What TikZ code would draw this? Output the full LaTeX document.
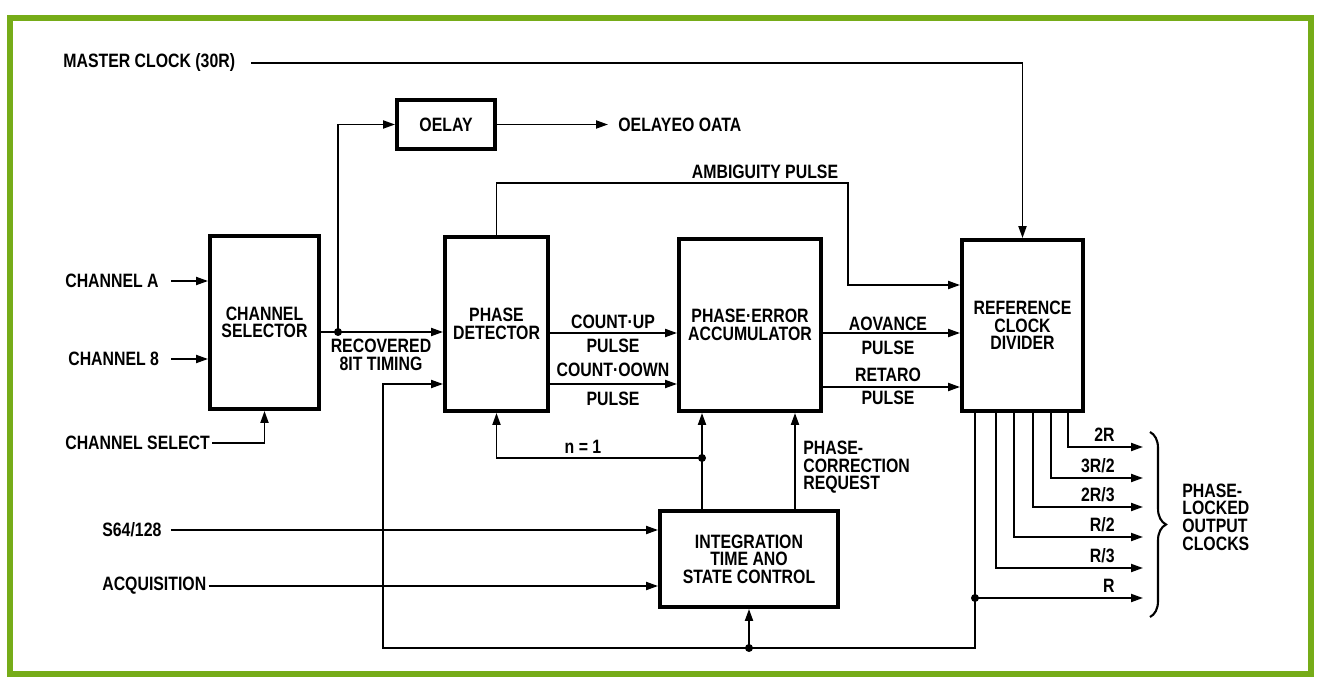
\documentclass[tikz,border=0pt]{standalone}
\usepackage{fontspec}
\setmainfont{Liberation Sans}[FakeStretch=0.82]
\usepackage{tikz}
\usetikzlibrary{arrows.meta, positioning, calc, decorations.pathreplacing}
\definecolor{framegreen}{RGB}{118,172,24}

\begin{document}
\begin{tikzpicture}[x=0.2mm, y=-0.2mm,
    blk/.style={draw, line width=2.2pt, align=center, inner sep=0pt, font=\bfseries\fontsize{11}{10}\selectfont},
    lbl/.style={inner sep=0.4mm, align=center, font=\bfseries\fontsize{11}{10}\selectfont},
    sig/.style={line width=1.1pt, -{Triangle[length=2.4mm, width=1.6mm]}},
    jdot/.style={circle, fill, inner sep=0pt, minimum size=1.6mm}]
        \useasboundingbox (0,0) rectangle (1318,684);
        % Cornice
        \draw[framegreen, line width=1.2mm] (10,18) rectangle (1311,674);

        % Blocchi
        \node[blk, minimum width=21.8mm, minimum height=34.6mm] (sel) at (264.5,322.5) {CHANNEL\\SELECTOR};
        \node[blk, minimum width=20.6mm, minimum height=34.8mm] (det) at (496.5,324) {PHASE\\DETECTOR};
        \node[blk, minimum width=28.4mm, minimum height=34.4mm] (acc) at (750,325) {PHASE·ERROR\\ACCUMULATOR};
        \node[blk, minimum width=24.2mm, minimum height=34.2mm] (ref) at (1022.5,325.5) {REFERENCE\\CLOCK\\DIVIDER};
        \node[blk, minimum width=35.6mm, minimum height=19.2mm] (intg) at (749,559) {INTEGRATION\\TIME ANO\\STATE CONTROL};
        \node[blk, minimum width=19.6mm, minimum height=9.8mm] (dly) at (446,124.5) {OELAY};

        % Ingressi
        \node[lbl, anchor=west] (master) at (61,63) {MASTER CLOCK (30R)};
        \node[lbl, anchor=west] (cha) at (63,281) {CHANNEL A};
        \node[lbl, anchor=west] (chb) at (66,359) {CHANNEL 8};
        \node[lbl, anchor=west] (chs) at (63,443) {CHANNEL SELECT};
        \node[lbl, anchor=west] (s64) at (100,530) {S64/128};
        \node[lbl, anchor=west] (acq) at (100,586) {ACQUISITION};
        \node[lbl, anchor=west] (ddata) at (616,125) {OELAYEO OATA};

        \draw[sig, shorten <=2.8mm] (master.east) -| (ref.north);
        \draw[sig, shorten <=2mm] (cha.east) -- (sel.west |- cha.east);
        \draw[sig, shorten <=2mm] (chb.east) -- (sel.west |- chb.east);
        \draw[sig] (chs.east) -| (sel.south);
        \draw[sig, shorten <=1.4mm] (s64.east) -- (intg.west |- s64.east);
        \draw[sig] (acq.east) -- (intg.west |- acq.east);

        % Bit timing e ritardo
        \coordinate (rbt) at (338,332);
        \draw[sig] (sel.east |- rbt) -- (det.west |- rbt);
        \draw[sig] (rbt) |- (dly.west);
        \draw[sig, shorten >=1.6mm] (dly.east) -- (ddata.west |- dly.east);
        \node[jdot] (d1) at (rbt) {};
        \node[lbl] (rbtl) at (381,355) {RECOVERED\\8IT TIMING};

        % Impulso di ambiguita
        \coordinate (amb) at (848,183);
        \coordinate (ambin) at (848,285);
        \draw[sig] (det.north) |- (amb) -- (ambin) -- (ref.west |- ambin);
        \node[lbl] (ambl) at (765,172) {AMBIGUITY PULSE};

        % Conteggio
        \coordinate (cu) at (0,333);
        \coordinate (cd) at (0,384);
        \draw[sig] (det.east |- cu) -- (acc.west |- cu);
        \draw[sig] (det.east |- cd) -- (acc.west |- cd);
        \node[lbl] (cul) at (613,322) {COUNT·UP};
        \node[lbl] (cup) at (613,346) {PULSE};
        \node[lbl] (cdl) at (613,370) {COUNT·OOWN};
        \node[lbl] (cdp) at (613,399) {PULSE};

        % Anticipo / ritardo
        \coordinate (adv) at (0,333);
        \coordinate (ret) at (0,387);
        \draw[sig] (acc.east |- adv) -- (ref.west |- adv);
        \draw[sig] (acc.east |- ret) -- (ref.west |- ret);
        \node[lbl] (advl) at (888,324) {AOVANCE};
        \node[lbl] (advp) at (888,348) {PULSE};
        \node[lbl] (retl) at (888,375) {RETARO};
        \node[lbl] (retp) at (888,398) {PULSE};

        % Controllo
        \coordinate (ndot) at (702,458);
        \coordinate (pcrx) at (795,0);
        \draw[sig] (intg.north -| ndot) -- (acc.south -| ndot);
        \draw[sig] (ndot) -| (det.south);
        \draw[sig] (intg.north -| pcrx) -- (acc.south -| pcrx);
        \node[jdot] (d2) at (ndot) {};
        \node[lbl] (neq) at (583,447) {n = 1};
        \node[lbl, anchor=north west, align=left] (pcr) at (801,439) {PHASE-\\CORRECTION\\REQUEST};

        % Uscite
        \foreach \cx/\cy/\ct [count=\i] in {1068/447/{2R}, 1051/478/{3R/2}, 1033/507/{2R/3}, 1014/537/{R/2}, 996/568/{R/3}} {
            \coordinate (out\i) at (1143,\cy);
            \draw[sig] (\cx,0 |- ref.south) |- (out\i);
            \node[lbl, anchor=east] (clk\i) at (1117,{\cy-12}) {\ct};
        }
        \coordinate (rdot) at (975,598);
        \coordinate (outR) at (1143,598);
        \coordinate (fbr) at (975,648);
        \coordinate (fbl) at (383,648);
        \coordinate (fbin) at (383,384);
        \coordinate (idot) at (749,648);
        \draw[sig] (975,0 |- ref.south) -- (fbr) -- (fbl) -- (fbin) -- (det.west |- fbin);
        \draw[sig] (rdot) -- (outR);
        \draw[sig] (idot) -- (intg.south);
        \node[jdot] (d3) at (rdot) {};
        \node[jdot] (d4) at (idot) {};
        \node[lbl, anchor=east] (clkR) at (1117,586) {R};

        \draw[line width=1.2pt, decorate, decoration={brace, amplitude=3.2mm}] (1150,432) -- (1150,617);
        \node[lbl, anchor=west, align=left] (plo) at (1180,517) {PHASE-\\LOCKED\\OUTPUT\\CLOCKS};
    \end{tikzpicture}
\end{document}
